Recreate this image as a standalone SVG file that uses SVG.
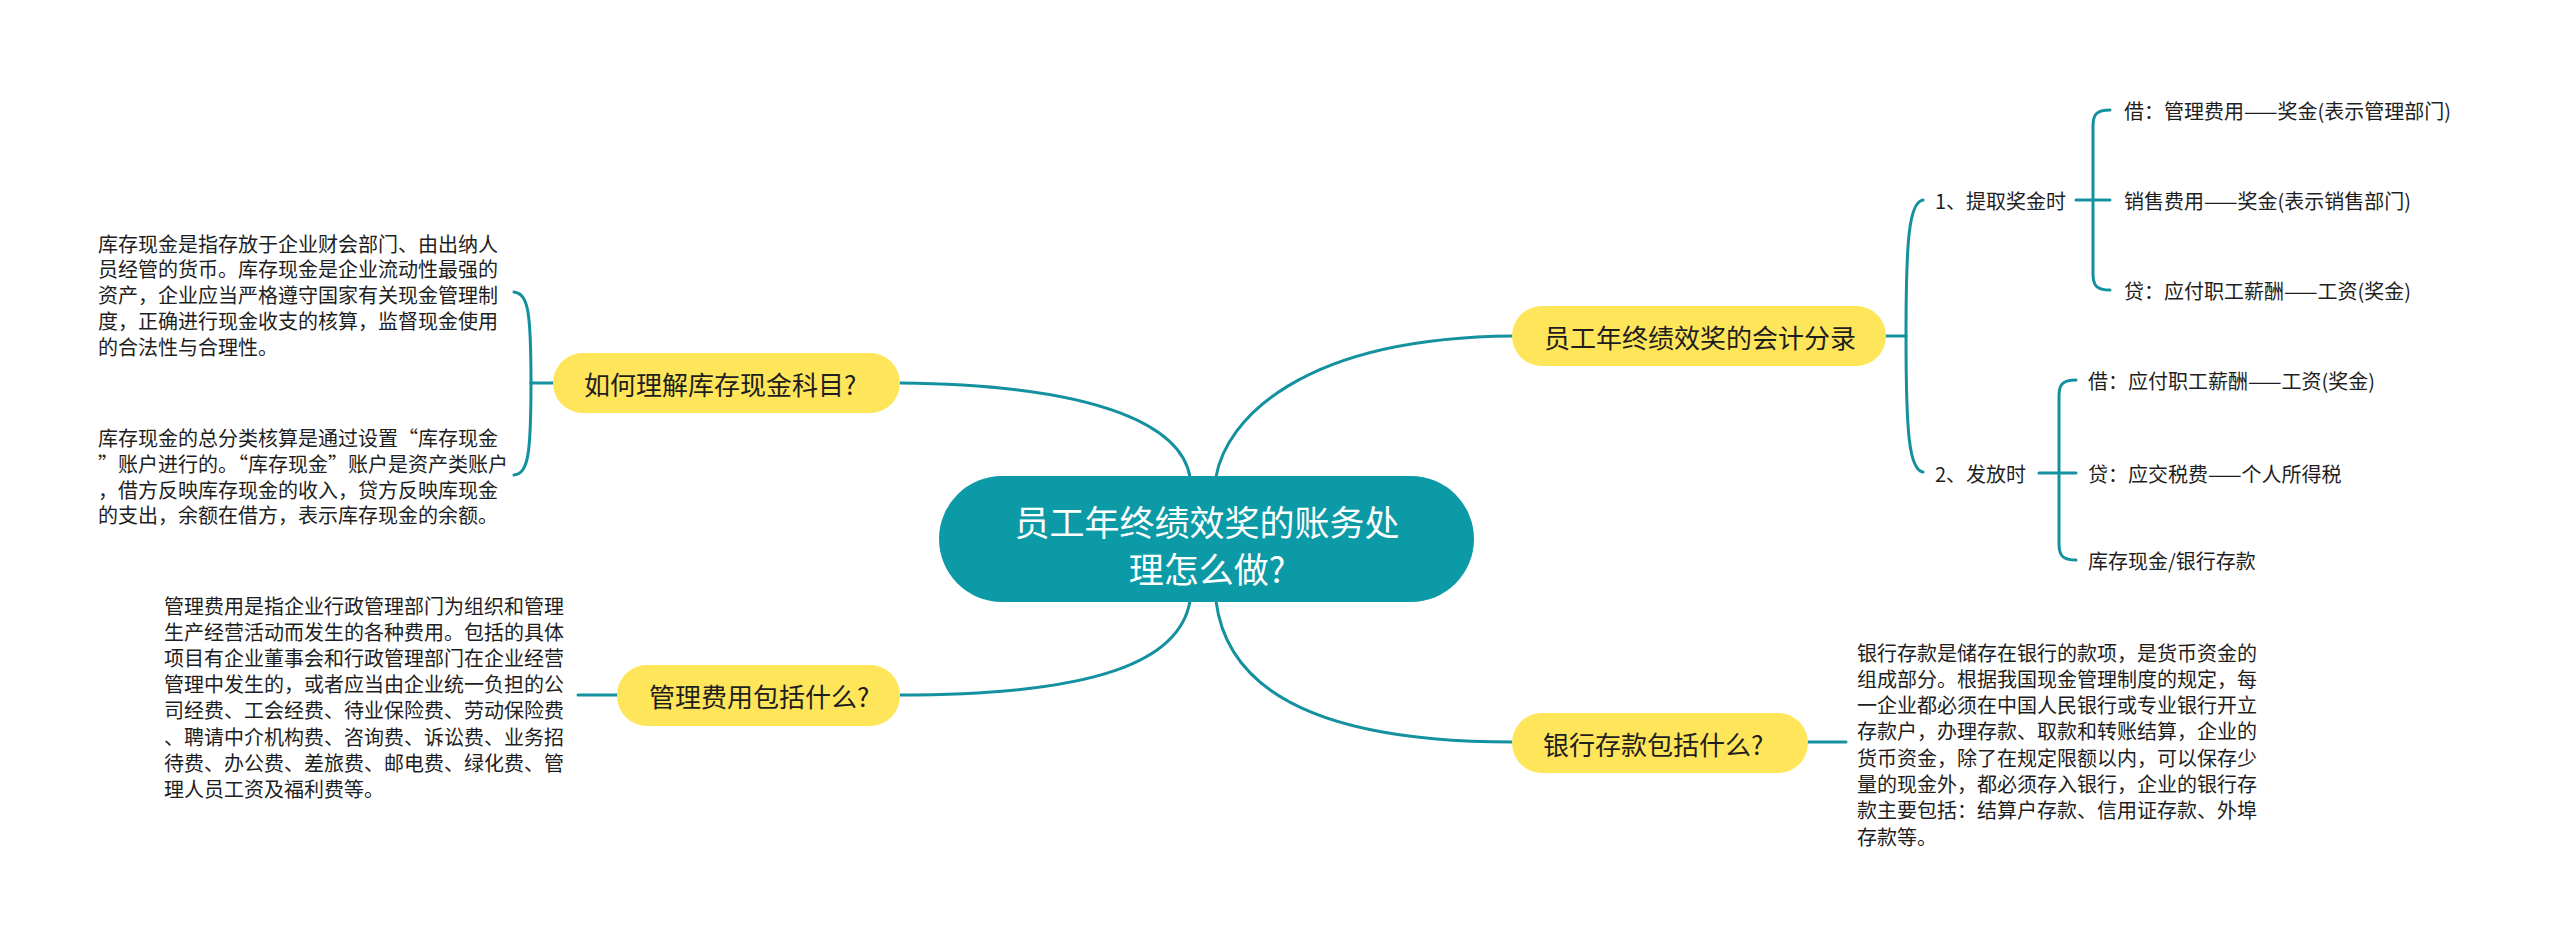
<svg xmlns="http://www.w3.org/2000/svg" width="2560" height="945" viewBox="0 0 2560 945">
<style>
.ln{fill:none;stroke:#14919E;stroke-width:3;stroke-linecap:round}
.yel{fill:#FFE55A}
.t{font-family:"Noto Sans CJK SC","Noto Sans",sans-serif;fill:#1E1E1E;dominant-baseline:central}
.s{font-size:20px}
.m{font-size:26px}
.c{font-size:35px;fill:#FFFFFF;text-anchor:middle}
</style>
<rect width="2560" height="945" fill="#FFFFFF"/>
<g id="connectors">
<path class="ln" d="M1190 477 C1182 430,1110 385,900 383"/>
<path class="ln" d="M1216 477 C1226 420,1300 338,1512 336"/>
<path class="ln" d="M1190 601 C1180 660,1100 695,900 695"/>
<path class="ln" d="M1216 601 C1226 680,1300 742,1512 742"/>
<path class="ln" d="M553 383 L531 383"/>
<path class="ln" d="M531 383 C531 310,528 294,514 292"/>
<path class="ln" d="M531 383 C531 456,528 473,514 475"/>
<path class="ln" d="M617 695 L578 695"/>
<path class="ln" d="M1808 742 L1846 742"/>
<path class="ln" d="M1886 336 L1906 336"/>
<path class="ln" d="M1906 336 C1906 240,1909 202,1923 200"/>
<path class="ln" d="M1906 336 C1906 432,1909 470,1923 472"/>
<path class="ln" d="M2076 200 L2110 200"/>
<path class="ln" d="M2110 110 C2097 110,2093 114,2093 126 L2093 274 C2093 286,2097 290,2110 290"/>
<path class="ln" d="M2039 473 L2076 473"/>
<path class="ln" d="M2076 380 C2063 380,2059 384,2059 396 L2059 544 C2059 556,2063 560,2076 560"/>
</g>
<g id="root">
<rect x="939" y="476" width="535" height="126" rx="63" fill="#0C9AA7"/>
<text class="t c" x="1207" y="520">员工年终绩效奖的账务处</text>
<text class="t c" x="1207" y="567">理怎么做?</text>
</g>
<g id="n-cash">
<rect class="yel" x="553" y="353" width="347" height="60" rx="30"/>
<text class="t m" x="584" y="383">如何理解库存现金科目?</text>
</g>
<g id="n-cash-1">
<text class="t s" x="98" y="243">库存现金是指存放于企业财会部门、由出纳人</text>
<text class="t s" x="98" y="268.8">员经管的货币。库存现金是企业流动性最强的</text>
<text class="t s" x="98" y="294.6">资产，企业应当严格遵守国家有关现金管理制</text>
<text class="t s" x="98" y="320.4">度，正确进行现金收支的核算，监督现金使用</text>
<text class="t s" x="98" y="346.2">的合法性与合理性。</text>
</g>
<g id="n-cash-2">
<text class="t s" x="98" y="437.5">库存现金的总分类核算是通过设置“库存现金</text>
<text class="t s" x="98" y="463.3">”账户进行的。“库存现金”账户是资产类账户</text>
<text class="t s" x="98" y="489.1">，借方反映库存现金的收入，贷方反映库现金</text>
<text class="t s" x="98" y="514.9">的支出，余额在借方，表示库存现金的余额。</text>
</g>
<g id="n-admin">
<rect class="yel" x="617" y="665" width="283" height="61" rx="30"/>
<text class="t m" x="649" y="695">管理费用包括什么?</text>
</g>
<g id="n-admin-1">
<text class="t s" x="164" y="605">管理费用是指企业行政管理部门为组织和管理</text>
<text class="t s" x="164" y="631.2">生产经营活动而发生的各种费用。包括的具体</text>
<text class="t s" x="164" y="657.4">项目有企业董事会和行政管理部门在企业经营</text>
<text class="t s" x="164" y="683.6">管理中发生的，或者应当由企业统一负担的公</text>
<text class="t s" x="164" y="709.8">司经费、工会经费、待业保险费、劳动保险费</text>
<text class="t s" x="164" y="736">、聘请中介机构费、咨询费、诉讼费、业务招</text>
<text class="t s" x="164" y="762.2">待费、办公费、差旅费、邮电费、绿化费、管</text>
<text class="t s" x="164" y="788.4">理人员工资及福利费等。</text>
</g>
<g id="n-bank">
<rect class="yel" x="1512" y="713" width="296" height="60" rx="30"/>
<text class="t m" x="1543" y="743">银行存款包括什么?</text>
</g>
<g id="n-bank-1">
<text class="t s" x="1857" y="652">银行存款是储存在银行的款项，是货币资金的</text>
<text class="t s" x="1857" y="678.3">组成部分。根据我国现金管理制度的规定，每</text>
<text class="t s" x="1857" y="704.6">一企业都必须在中国人民银行或专业银行开立</text>
<text class="t s" x="1857" y="730.9">存款户，办理存款、取款和转账结算，企业的</text>
<text class="t s" x="1857" y="757.2">货币资金，除了在规定限额以内，可以保存少</text>
<text class="t s" x="1857" y="783.5">量的现金外，都必须存入银行，企业的银行存</text>
<text class="t s" x="1857" y="809.8">款主要包括：结算户存款、信用证存款、外埠</text>
<text class="t s" x="1857" y="836.1">存款等。</text>
</g>
<g id="n-entry">
<rect class="yel" x="1512" y="306" width="374" height="60" rx="30"/>
<text class="t m" x="1544" y="336">员工年终绩效奖的会计分录</text>
</g>
<g id="n-accrue">
<text class="t s" x="1935" y="200">1、提取奖金时</text>
</g>
<g id="n-accrue-1"><text class="t s" x="2124" y="110">借：管理费用——奖金(表示管理部门)</text></g>
<g id="n-accrue-2"><text class="t s" x="2124" y="200">销售费用——奖金(表示销售部门)</text></g>
<g id="n-accrue-3"><text class="t s" x="2124" y="290">贷：应付职工薪酬——工资(奖金)</text></g>
<g id="n-pay">
<text class="t s" x="1935" y="473">2、发放时</text>
</g>
<g id="n-pay-1"><text class="t s" x="2088" y="380">借：应付职工薪酬——工资(奖金)</text></g>
<g id="n-pay-2"><text class="t s" x="2088" y="473">贷：应交税费——个人所得税</text></g>
<g id="n-pay-3"><text class="t s" x="2088" y="560">库存现金/银行存款</text></g>
</svg>
